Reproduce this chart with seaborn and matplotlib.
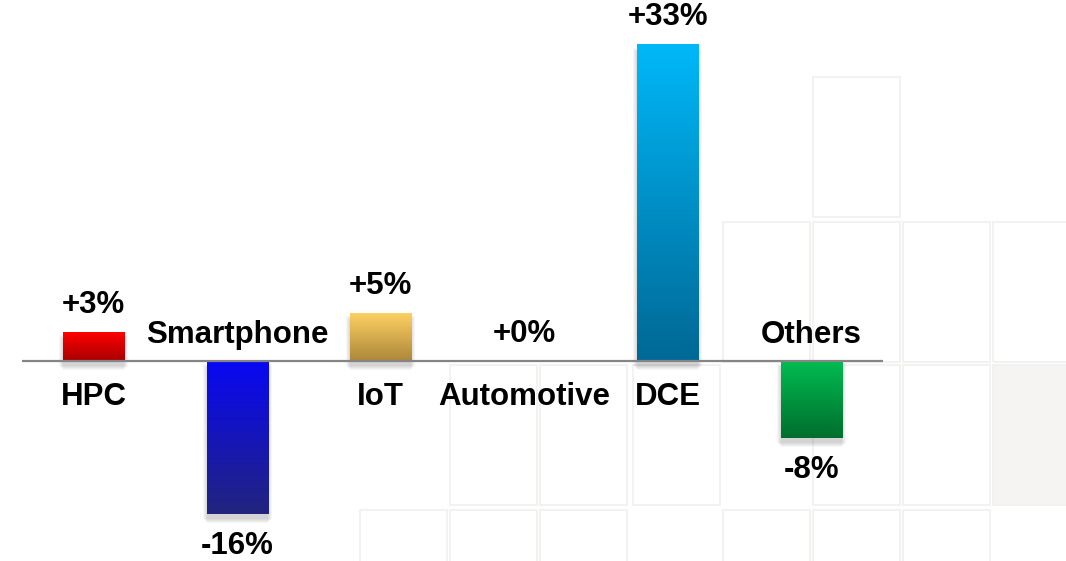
import numpy as np
import pandas as pd
import matplotlib
matplotlib.use("Agg")
import matplotlib.pyplot as plt
from matplotlib.patches import Rectangle
from matplotlib.colors import LinearSegmentedColormap
import seaborn as sns

# data
segments = ["HPC", "Smartphone", "IoT", "Automotive", "DCE", "Others"]
growth = [3, -16, 5, 0, 33, -8]
top_colors = ["#ff0000", "#0808f4", "#fdd062", "#9a9a9a", "#00b8f8", "#00bc50"]
bottom_colors = ["#a80000", "#22247e", "#ad873a", "#9a9a9a", "#006895", "#006e2e"]

df = pd.DataFrame({"segment": segments, "growth": growth})

sns.set_theme(style="white")
plt.rcParams["font.family"] = ["Liberation Sans", "DejaVu Sans"]

fig = plt.figure(figsize=(10.66, 5.61), dpi=100)
fig.patch.set_facecolor("white")

ax = fig.add_axes([0, 0, 1, 1])
ax.set_facecolor("none")

# faint decorative boxes in the lower right (pixel layout: left, top)
W, H = 1066, 561
cells = [(813, 77),
         (723, 222), (813, 222), (903, 222), (993, 222),
         (450, 365), (540, 365), (633, 365), (813, 365), (903, 365), (993, 365),
         (360, 510), (450, 510), (540, 510), (723, 510), (813, 510), (903, 510)]
for (cx, cy) in cells:
    fc = "#f6f4f3" if (cx, cy) == (993, 365) else "none"
    ax.add_patch(Rectangle((cx / W, 1 - (cy + 140) / H), 87 / W, 140 / H,
                           transform=fig.transFigure, facecolor=fc,
                           edgecolor="#f4f1f1", linewidth=1.4, zorder=0))

sns.barplot(data=df, x="segment", y="growth", hue="segment", palette=top_colors,
            width=0.425, legend=False, ax=ax, zorder=2)

px_x = 1 / 143.6   # data units per pixel
px_y = 1 / 9.58

xlim = (-93.5 / 143.6, (W - 93.5) / 143.6)
ylim = (-(H - 361) / 9.58, 361 / 9.58)

bars = sorted([p for p in ax.patches if p.get_zorder() == 2], key=lambda p: p.get_x())
for i, p in enumerate(bars):
    x0 = p.get_x()
    w = p.get_width()
    h = p.get_height()
    yb, yt = min(0, h), max(0, h)
    p.set_facecolor("none")
    p.set_edgecolor("none")
    if h == 0:
        continue
    # soft shadow
    for k in range(5):
        ax.add_patch(Rectangle((x0 - k * px_x, yb - (9 - k) * px_y), w + 2 * k * px_x,
                               (yt - yb) + 2 * px_y, facecolor="#000000", alpha=0.035,
                               edgecolor="none", zorder=1))
    cmap = LinearSegmentedColormap.from_list("g%d" % i, [bottom_colors[i], top_colors[i]])
    grad = np.linspace(0, 1, 128).reshape(-1, 1)
    ax.imshow(grad, extent=(x0, x0 + w, yb, yt), origin="lower", aspect="auto",
              cmap=cmap, zorder=3)

# zero line
ax.plot([-0.5, 5.5], [0, 0], color="#858585", lw=1.6, zorder=4, solid_capstyle="butt")

txt = dict(fontsize=22.5, fontweight="bold", color="black", ha="center", va="center", zorder=5)
for i, (seg, g) in enumerate(zip(segments, growth)):
    lab = "%+d%%" % g
    if g >= 0:
        ax.annotate(lab, (i, g), xytext=(0, 27.5 * 0.72), textcoords="offset points", **txt)
        ax.annotate(seg, (i, 0), xytext=(0, -36 * 0.72), textcoords="offset points", **txt)
    else:
        ax.annotate(seg, (i, 0), xytext=(0, 26 * 0.72), textcoords="offset points", **txt)
        ax.annotate(lab, (i, g), xytext=(0, -32 * 0.72), textcoords="offset points", **txt)

ax.set_xlim(*xlim)
ax.set_ylim(*ylim)
ax.set_xlabel("")
ax.set_ylabel("")
ax.set_xticks([])
ax.set_yticks([])
for s in ax.spines.values():
    s.set_visible(False)

fig.savefig("out.png", dpi=100, facecolor="white")
